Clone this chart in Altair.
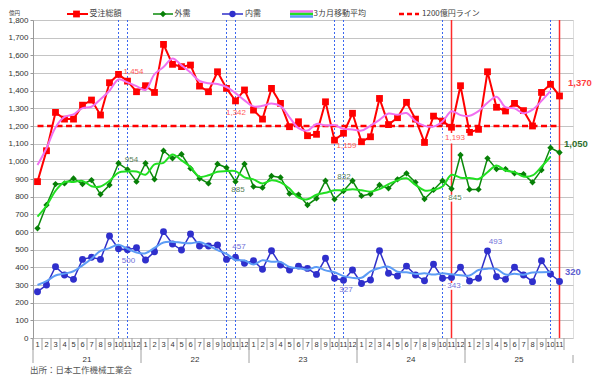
import altair as alt
import pandas as pd

# ---------------- data (億円) ----------------
years = ["21", "22", "23", "24", "25"]
month_labels = ["1", "2", "3", "4", "5", "6", "7", "8", "9", "10", "11", "12",
                "1", "2", "3", "4", "5", "6", "7", "8", "9", "10", "11", "12",
                "1", "2", "3", "4", "5", "6", "7", "8", "9", "10", "11", "12",
                "1", "2", "3", "4", "5", "6", "7", "8", "9", "10", "11", "12",
                "1", "2", "3", "4", "5", "6", "7", "8", "9", "10", "11"]

total = [885, 1060, 1277, 1239, 1239, 1318, 1347, 1262, 1445, 1492, 1454, 1394,
         1428, 1390, 1662, 1549, 1536, 1545, 1426, 1394, 1507, 1413, 1342, 1404,
         1290, 1239, 1413, 1328, 1196, 1224, 1145, 1153, 1337, 1120, 1159, 1272,
         1111, 1139, 1356, 1208, 1247, 1334, 1239, 1107, 1256, 1228, 1193, 1428,
         1164, 1181, 1507, 1306, 1285, 1328, 1287, 1200, 1390, 1436, 1370]
ext = [621, 753, 871, 875, 903, 871, 894, 813, 866, 989, 954, 885,
       989, 898, 1060, 1017, 1040, 960, 903, 875, 985, 964, 885, 985,
       857, 851, 917, 909, 817, 812, 753, 790, 890, 785, 832, 890,
       804, 815, 866, 847, 898, 932, 881, 787, 838, 890, 845, 1036,
       841, 841, 1017, 956, 956, 932, 928, 881, 951, 1077, 1050]
dom = [262, 300, 404, 357, 332, 445, 457, 445, 577, 505, 500, 511,
       441, 488, 602, 532, 498, 589, 521, 521, 526, 445, 457, 423,
       437, 389, 494, 413, 385, 407, 394, 360, 451, 338, 327, 385,
       309, 328, 494, 366, 351, 407, 357, 324, 417, 338, 343, 400,
       323, 338, 493, 347, 332, 400, 357, 319, 437, 362, 320]
# month before the first one (Dec 2020), used only for the first moving average point
prior_total, prior_ext, prior_dom = 992, 687, 338
line_1200 = 1200
blue_marks = [9, 10, 21, 22, 33, 34, 45, 57]   # dotted reference months
red_marks = [46, 58]                            # solid red reference months

N = len(total)
idx = list(range(N))

df = pd.DataFrame({"idx": [-1] + idx,
                   "total": [prior_total] + total,
                   "ext": [prior_ext] + ext,
                   "dom": [prior_dom] + dom})

NUM = "Liberation Sans"
JP = "Noto Sans CJK JP"

xscale = alt.Scale(domain=[-0.5, 59.5], nice=False, zero=False)
yscale = alt.Scale(domain=[0, 1800], nice=False, zero=True)

yaxis = alt.Axis(values=list(range(0, 1801, 100)), labelExpr="format(datum.value, ',')", title=None,
                 labelFont=NUM, labelFontSize=8, labelColor="#333333",
                 tickSize=3, tickColor="#999999", domainColor="#999999",
                 gridColor="#c4c4c4", grid=True, labelPadding=2)


def X(field="idx"):
    return alt.X(f"{field}:Q", scale=xscale, axis=None)


def Y(field):
    return alt.Y(f"{field}:Q", scale=yscale, axis=yaxis)


base = alt.Chart(df).transform_filter("datum.idx >= 0")

layers = []

# vertical reference lines
layers.append(alt.Chart(pd.DataFrame({"idx": blue_marks})).mark_rule(
    color="#3a66f0", strokeDash=[2, 2], strokeWidth=1).encode(x=X()))
layers.append(alt.Chart(pd.DataFrame({"idx": red_marks})).mark_rule(
    color="#ff2a2a", strokeWidth=1.5).encode(x=X()))

# 1200 line
layers.append(alt.Chart(pd.DataFrame({"x0": [0], "x1": [N - 1], "y": [line_1200]})).mark_rule(
    color="#ff0000", strokeWidth=2.5, strokeDash=[6, 3.5]).encode(
    x=X("x0"), x2="x1:Q", y=Y("y")))

# series
layers.append(base.mark_line(color="#ff0000", strokeWidth=2).encode(x=X(), y=Y("total")))
layers.append(base.mark_point(shape="square", filled=True, size=46, color="#ff0000", opacity=1).encode(
    x=X(), y=Y("total")))
layers.append(base.mark_line(color="#0b8a0b", strokeWidth=1.5).encode(x=X(), y=Y("ext")))
layers.append(base.mark_point(shape="diamond", filled=True, size=40, color="#078007", opacity=1).encode(
    x=X(), y=Y("ext")))
layers.append(base.mark_line(color="#2f2fc8", strokeWidth=1.5).encode(x=X(), y=Y("dom")))
layers.append(base.mark_point(shape="circle", filled=True, size=48, color="#2f2fcc", opacity=1).encode(
    x=X(), y=Y("dom")))

# 3-month (centred) moving averages
ma = alt.Chart(df).transform_window(
    ma_total="mean(total)", ma_ext="mean(ext)", ma_dom="mean(dom)",
    frame=[-1, 1], sort=[alt.SortField("idx")]
).transform_filter(f"datum.idx >= 0 && datum.idx <= {N - 2}")
layers.append(ma.mark_line(color="#f070f0", strokeWidth=2, interpolate="catmull-rom").encode(
    x=X(), y=Y("ma_total")))
layers.append(ma.mark_line(color="#22e022", strokeWidth=2, interpolate="catmull-rom").encode(
    x=X(), y=Y("ma_ext")))
layers.append(ma.mark_line(color="#5c9cf5", strokeWidth=2, interpolate="catmull-rom").encode(
    x=X(), y=Y("ma_dom")))

# point labels
series = {"total": total, "ext": ext, "dom": dom}
labels = [
    ("total", 10, "1,454", 6, -9.5, "#ff5b5b", False, "center", False),
    ("total", 22, "1,342", 0.5, 12, "#ff5b5b", False, "center", False),
    ("total", 34, "1,159", 3, 13, "#ff5b5b", False, "center", False),
    ("total", 46, "1,193", 3.5, 11, "#ff5b5b", False, "center", True),
    ("ext", 10, "954", 4, -9, "#5a7f5a", False, "center", False),
    ("ext", 22, "885", 2.5, 8, "#5a7f5a", False, "center", False),
    ("ext", 34, "832", 0.5, -14, "#5a7f5a", False, "center", False),
    ("ext", 46, "845", 3.5, 9.5, "#5a7f5a", False, "center", True),
    ("dom", 10, "500", 1, 11, "#7070d8", False, "center", False),
    ("dom", 22, "457", 3.5, -10, "#7070d8", False, "center", False),
    ("dom", 34, "327", 2.5, 10, "#7070d8", False, "center", False),
    ("dom", 46, "343", 2.5, 9, "#7070d8", False, "center", True),
    ("dom", 50, "493", 8, -9, "#7070d8", False, "center", False),
    ("total", 58, "1,370", 8.5, -13, "#ff4040", True, "left", False),
    ("ext", 58, "1,050", 4.5, -9, "#2f6f2f", True, "left", False),
    ("dom", 58, "320", 5.5, -9, "#6060d0", True, "left", False),
]
for s, i, txt, dx, dy, col, bold, al, box in labels:
    d = pd.DataFrame({"idx": [i], "v": [series[s][i]], "t": [txt]})
    if box:
        layers.append(alt.Chart(d).mark_point(
            shape="M-1,-0.42L1,-0.42L1,0.42L-1,0.42Z", filled=True, color="white", opacity=1,
            size=(8 * len(txt) * 0.55 + 3) ** 2, xOffset=dx, yOffset=dy).encode(x=X(), y=Y("v")))
    layers.append(alt.Chart(d).mark_text(
        font=NUM, fontSize=9.5 if bold else 8, fontWeight="bold" if bold else "normal",
        color=col, dx=dx, dy=dy, align=al, baseline="middle").encode(
        x=X(), y=Y("v"), text="t:N"))

# x axis: month cells and year row
layers.append(alt.Chart(pd.DataFrame({"idx": idx, "m": month_labels})).mark_text(
    font=NUM, fontSize=7.5, color="#333333", baseline="middle").encode(
    x=X(), y=alt.value(325), text="m:N"))
layers.append(alt.Chart(pd.DataFrame({"b": [i - 0.5 for i in range(N + 1)]})).mark_rule(
    color="#a0a0a0", strokeWidth=1).encode(x=X("b"), y=alt.value(318), y2=alt.value(330)))
layers.append(alt.Chart(pd.DataFrame({"b": [12 * k - 0.5 for k in range(len(years))]})).mark_rule(
    color="#a0a0a0", strokeWidth=1).encode(x=X("b"), y=alt.value(318), y2=alt.value(343)))
layers.append(alt.Chart(pd.DataFrame({"b": [12 * len(years) - 0.5]})).mark_rule(
    color="#a0a0a0", strokeWidth=1).encode(x=X("b"), y=alt.value(335), y2=alt.value(343)))
layers.append(alt.Chart(pd.DataFrame({"c": [12 * k + 5.5 for k in range(len(years))], "y": years})).mark_text(
    font=NUM, fontSize=8, color="#333333", baseline="middle").encode(
    x=X("c"), y=alt.value(339.5), text="y:N"))

# legend (drawn by hand)
one = pd.DataFrame({"a": [0]})
LY = -6


def lrule(x1, x2, y, color, w, dash=None):
    kw = {"color": color, "strokeWidth": w}
    if dash:
        kw["strokeDash"] = dash
    return alt.Chart(one).mark_rule(**kw).encode(x=alt.value(x1), x2=alt.value(x2), y=alt.value(y))


def lpt(x, shape, color, size):
    return alt.Chart(one).mark_point(shape=shape, filled=True, color=color, size=size, opacity=1).encode(
        x=alt.value(x), y=alt.value(LY))


def ltext(x, t, size=8, color="#404040", font=JP, al="left", y=LY):
    return alt.Chart(one).mark_text(text=t, font=font, fontSize=size, color=color, align=al,
                                    baseline="middle").encode(x=alt.value(x), y=alt.value(y))


layers += [
    lrule(34, 55, LY, "#ff0000", 2), lpt(43.5, "square", "#ff0000", 46), ltext(56.5, "受注総額"),
    lrule(120, 140, LY, "#0b8a0b", 1.5), lpt(130, "diamond", "#078007", 40), ltext(141.5, "外需"),
    lrule(189, 210, LY, "#2f2fc8", 1.5), lpt(199.5, "circle", "#2f2fcc", 40), ltext(212, "内需"),
    lrule(257, 280, -8.5, "#f070f0", 2.5), lrule(257, 280, -6, "#22e022", 2.5),
    lrule(257, 280, -3.5, "#5c9cf5", 2.5), ltext(280.5, "3カ月移動平均"),
    lrule(366, 386, LY, "#ff0000", 2.5, [5, 3]), ltext(389, "1200億円ライン"),
    ltext(-18.5, "億円", size=5.5, al="center", y=-7),
    ltext(-3, "出所：日本工作機械工業会", size=8.5, color="#555555", y=350),
]

chart = alt.layer(*layers).properties(
    width=540, height=318,
    autosize=alt.AutoSizeParams(type="none"),
    padding={"left": 25, "top": 12, "right": 19, "bottom": 41},
).configure_view(stroke=None).configure(background="white")

chart.save("out.html", embed_options={"renderer": "svg", "actions": False})
